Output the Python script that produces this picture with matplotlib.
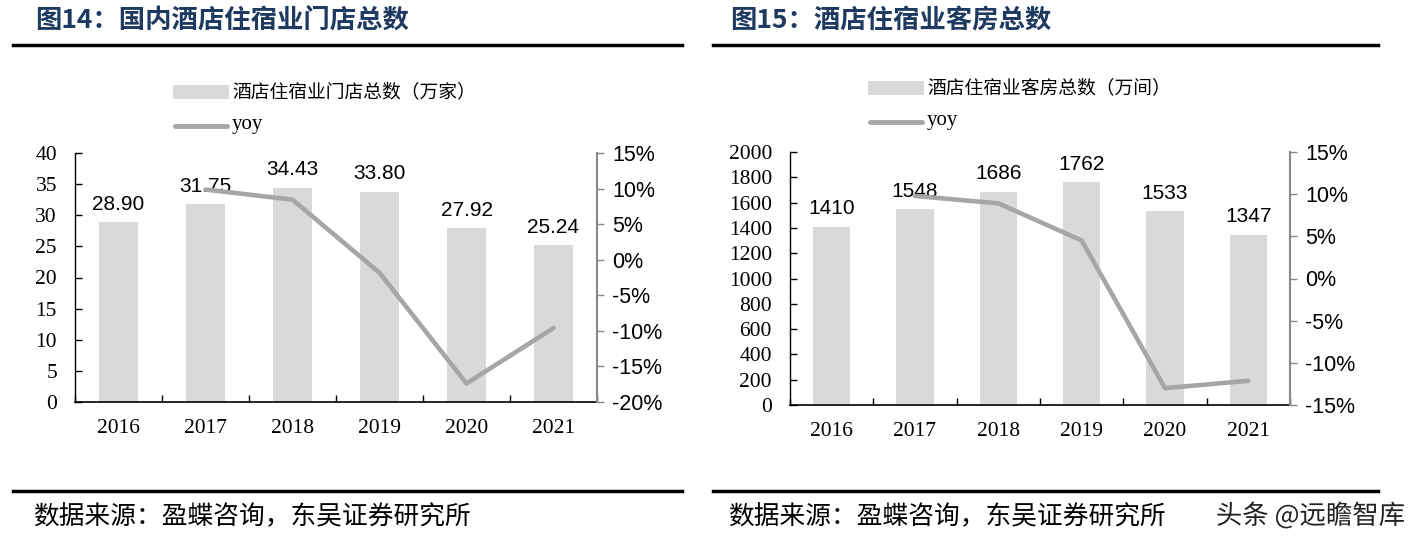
import matplotlib
matplotlib.use("Agg")
import matplotlib.pyplot as plt
from matplotlib.lines import Line2D
import matplotlib.patheffects as pe
import numpy as np

years = ["2016", "2017", "2018", "2019", "2020", "2021"]

stores = [28.90, 31.75, 34.43, 33.80, 27.92, 25.24]
stores_yoy = [None, 9.86, 8.44, -1.83, -17.40, -9.60]
stores_label = "酒店住宿业门店总数（万家）"
stores_title = "图14：国内酒店住宿业门店总数"

rooms = [1410, 1548, 1686, 1762, 1533, 1347]
rooms_yoy = [None, 9.79, 8.91, 4.51, -13.00, -12.13]
rooms_label = "酒店住宿业客房总数（万间）"
rooms_title = "图15：酒店住宿业客房总数"

source_text = "数据来源：盈蝶咨询，东吴证券研究所"
watermark = "头条 @远瞻智库"

BAR = "#d9d9d9"
LINE = "#a6a6a6"
NAVY = "#1f3a60"
CJK = ["Noto Sans CJK SC", "DejaVu Sans"]
SERIF = "Liberation Serif"
SANS = "Liberation Sans"

W, H = 1413, 547
fig = plt.figure(figsize=(W / 100, H / 100), dpi=100)


def fx(x):
    return x / W


def fy(y):
    return 1 - y / H


def panel(rect, vals, yoy, ylim, ystep, rlim, rstep, fmt):
    ax = fig.add_axes(rect)
    x = np.arange(len(years))
    ax.bar(x, vals, width=0.45, color=BAR, zorder=1)
    for xi, v in zip(x, vals):
        ax.annotate(fmt(v), (xi, v), xytext=(0, 6), textcoords="offset points",
                    ha="center", va="bottom", fontsize=15, family=SANS, color="black")
    ax.set_xlim(-0.5, len(years) - 0.5)
    ax.set_ylim(*ylim)
    ax.set_yticks(np.arange(ylim[0], ylim[1] + ystep / 2, ystep))
    ax.set_xticks(x)
    ax.set_xticklabels(years, family=SERIF, fontsize=15.5)
    ax.set_xticks(np.arange(-0.5, len(years), 1), minor=True)
    ax.tick_params(axis="x", which="major", length=0, pad=12)
    ax.tick_params(axis="x", which="minor", length=5, direction="in", width=1)
    ax.tick_params(axis="y", which="major", length=5, direction="in", width=1, pad=13,
                   labelsize=15.5)
    for lab in ax.get_yticklabels():
        lab.set_family(SERIF)
    ax.spines["top"].set_visible(False)
    ax.spines["right"].set_visible(False)
    ax.spines["left"].set_linewidth(1)
    ax.spines["bottom"].set_linewidth(1.2)

    ax2 = ax.twinx()
    xs = [xi for xi, v in zip(x, yoy) if v is not None]
    ys = [v for v in yoy if v is not None]
    ax2.plot(xs, ys, color=LINE, lw=3.3, solid_capstyle="round", zorder=3)
    ax2.set_ylim(*rlim)
    ax2.set_yticks(np.arange(rlim[0], rlim[1] + rstep / 2, rstep))
    ax2.set_yticklabels([f"{int(round(t))}%" for t in ax2.get_yticks()],
                        family=SANS, fontsize=15.5)
    ax2.tick_params(axis="y", length=5, width=1, color="#888888", pad=6)
    for s in ["top", "left", "bottom"]:
        ax2.spines[s].set_visible(False)
    ax2.spines["right"].set_color("#888888")
    ax2.spines["right"].set_linewidth(1.5)
    return ax


# left panel
panel([fx(75), fy(402), fx(597) - fx(75), fy(153) - fy(402)],
      stores, stores_yoy, (0, 40), 5, (-20, 15), 5, lambda v: f"{v:.2f}")
# right panel
panel([fx(790), fy(405), fx(1290) - fx(790), fy(152) - fy(405)],
      rooms, rooms_yoy, (0, 2000), 200, (-15, 15), 5, lambda v: f"{v:d}")

# titles, rules, legends, sources
for (x0, x1, tx, title, leg_x, leg_label, leg_y) in [
    (13, 682, 35, stores_title, 173, stores_label, 92),
    (713, 1378, 730, rooms_title, 868, rooms_label, 88),
]:
    fig.text(fx(tx), fy(20), title, family=CJK, fontsize=19, fontweight="bold",
             color=NAVY, va="center", ha="left")
    fig.add_artist(Line2D([fx(x0), fx(x1)], [fy(45), fy(45)], color="black", lw=2.5))
    fig.add_artist(Line2D([fx(x0), fx(x1)], [fy(491), fy(491)], color="black", lw=2.5))
    fig.text(fx(tx - 2), fy(517), source_text, family=CJK, fontsize=18.5, color="black",
             va="center", ha="left")
    # legend
    fig.add_artist(plt.Rectangle((fx(leg_x), fy(leg_y + 7)), fx(56), fy(0) - fy(14),
                                 facecolor=BAR, edgecolor="none"))
    fig.text(fx(leg_x + 59), fy(leg_y), leg_label, family=CJK, fontsize=13.5,
             va="center", ha="left")
    fig.add_artist(Line2D([fx(leg_x + 2), fx(leg_x + 54)], [fy(leg_y + 34), fy(leg_y + 34)],
                          color=LINE, lw=3.5, solid_capstyle="round"))
    fig.text(fx(leg_x + 59), fy(leg_y + 32), "yoy", family=SERIF, fontsize=15,
             va="center", ha="left")

# watermark
fig.text(fx(1405), fy(516), watermark, family=CJK, fontsize=19, color="#222222",
         va="center", ha="right",
         path_effects=[pe.withStroke(linewidth=3, foreground="white")])

fig.savefig("out.png", dpi=100)
